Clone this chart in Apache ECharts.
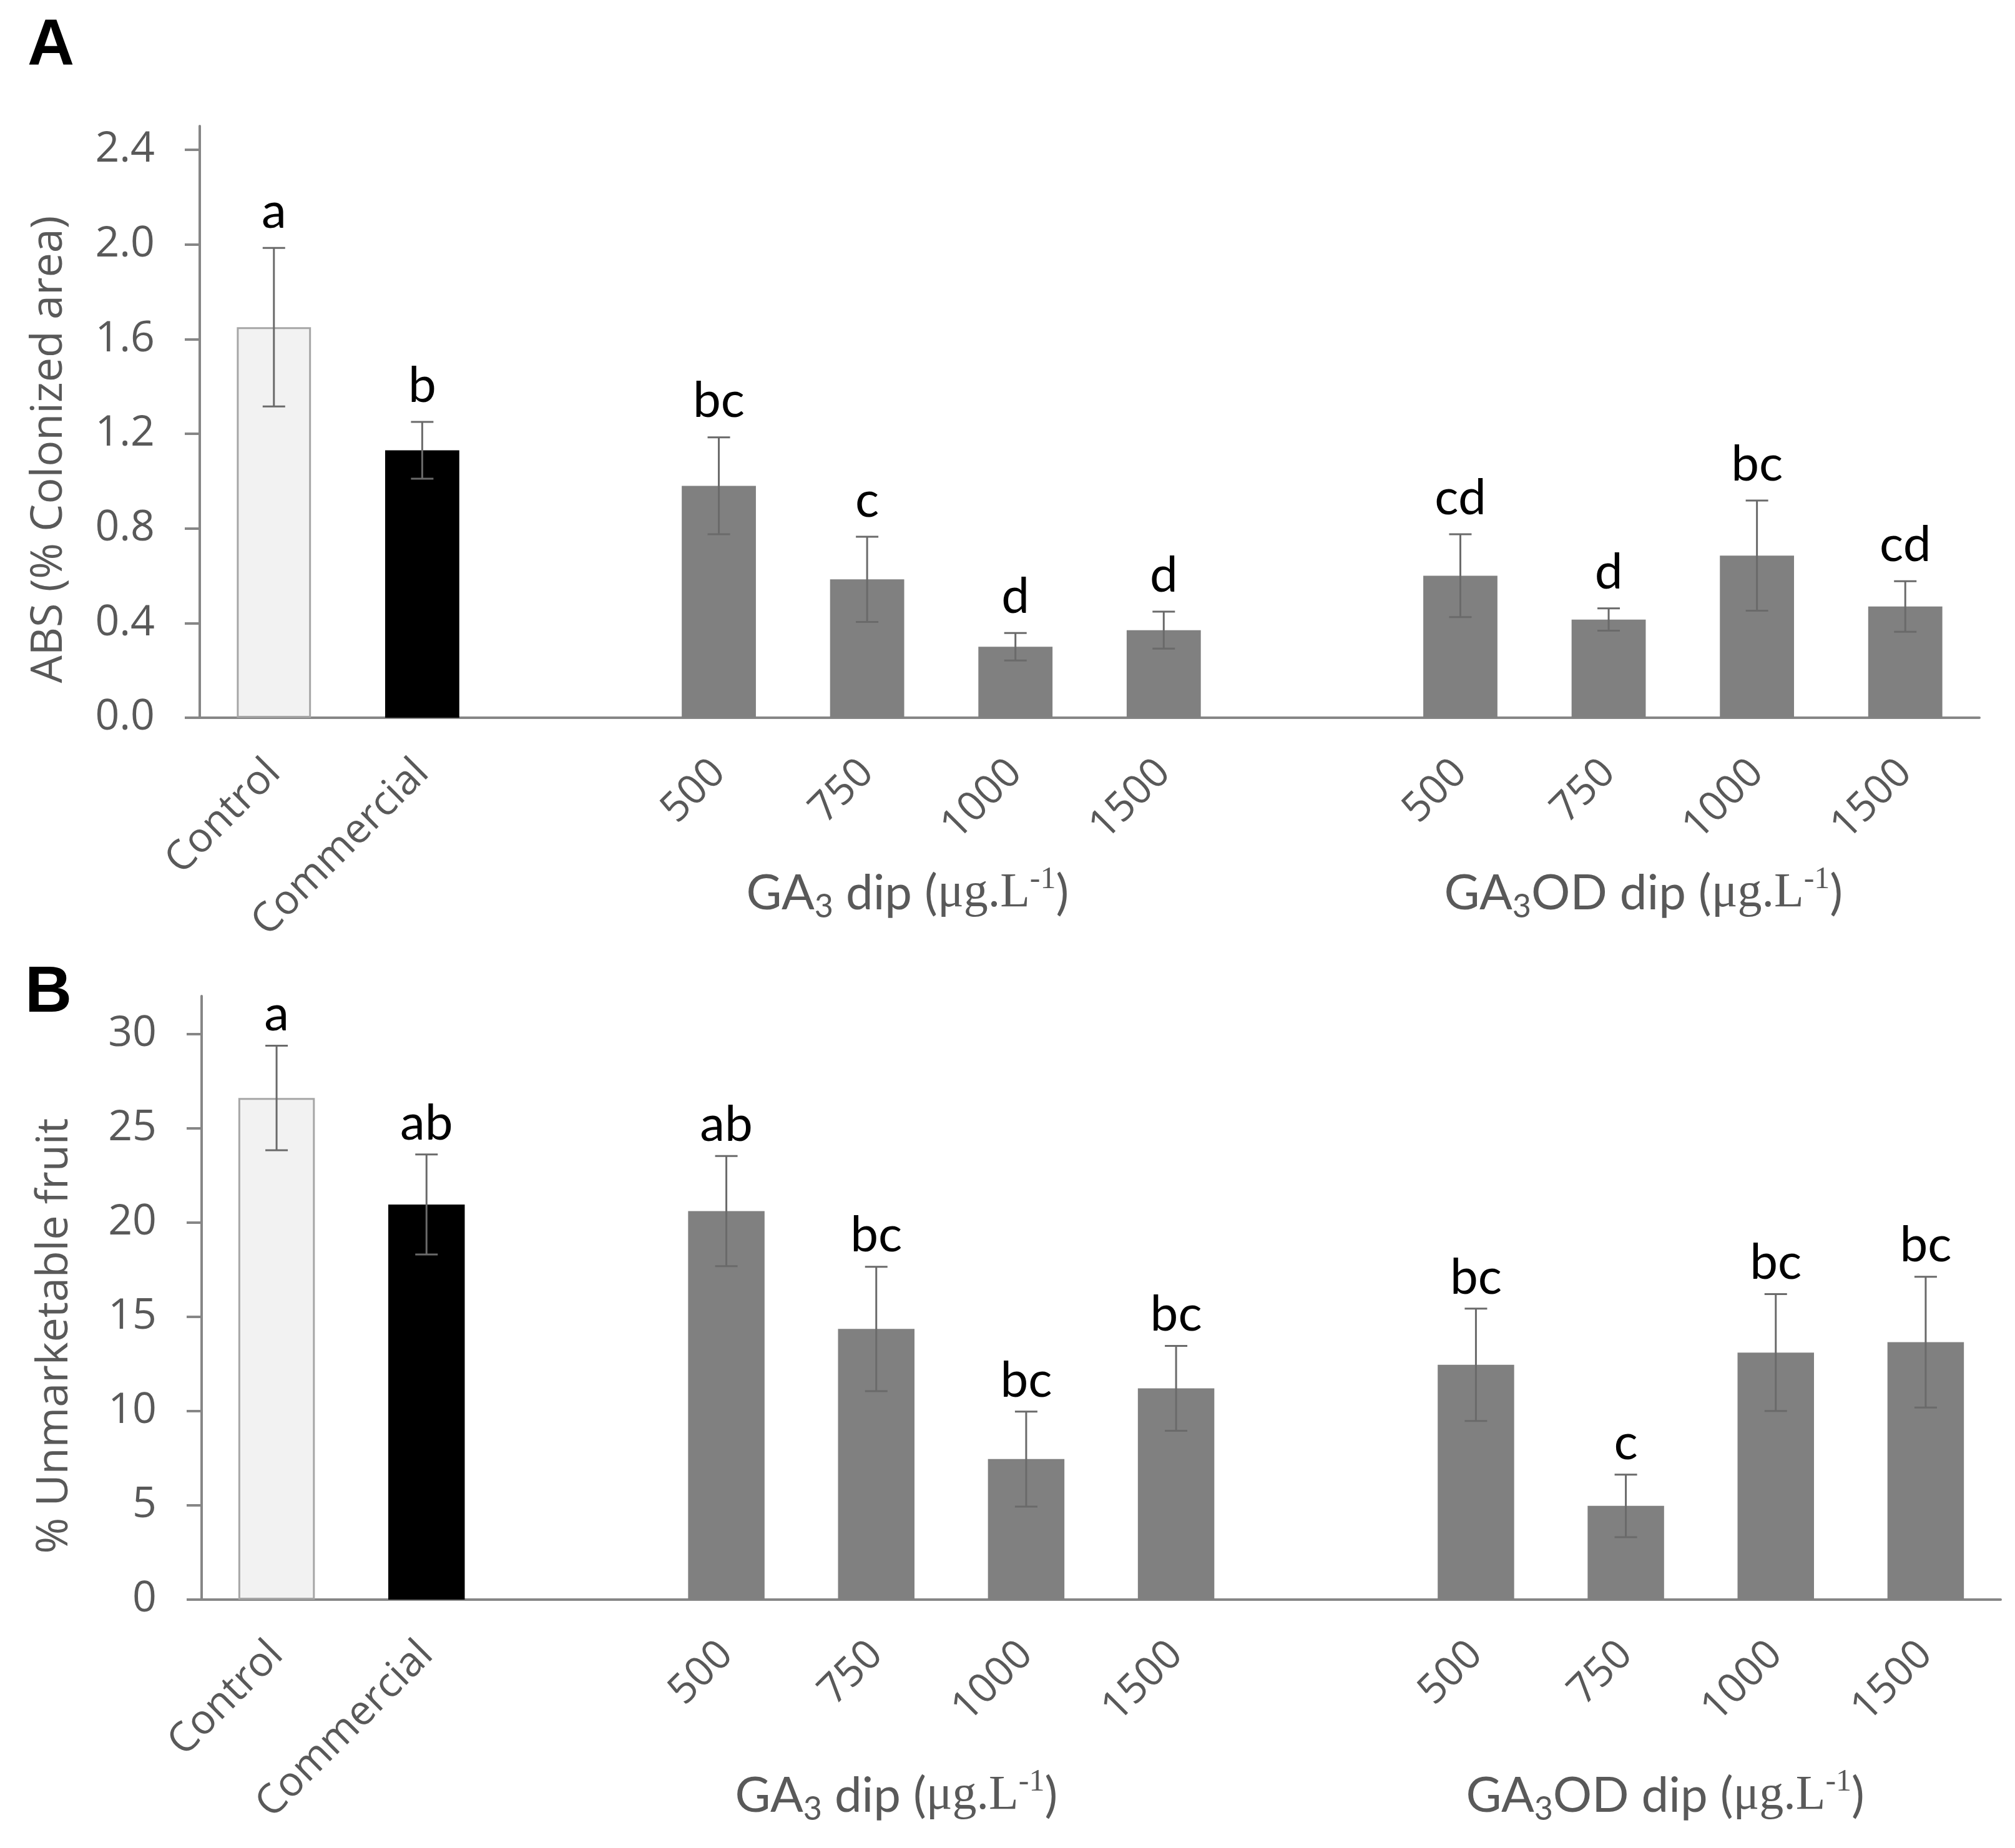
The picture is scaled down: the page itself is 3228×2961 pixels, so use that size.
<!DOCTYPE html>
<html>
<head>
<meta charset="utf-8">
<script src="https://cdn.jsdelivr.net/npm/echarts@6/dist/echarts.min.js"></script>
<style>
html,body{margin:0;padding:0;background:#fff;}
#c{width:3228px;height:2961px;}
</style>
</head>
<body>
<div id="c"></div>
<script>
// ---- data ----
const categories = ['Control','Commercial','gap1','GA3-500','GA3-750','GA3-1000','GA3-1500','gap2','GA3OD-500','GA3OD-750','GA3OD-1000','GA3OD-1500'];
const tickLabels = ['Control','Commercial','','500','750','1000','1500','','500','750','1000','1500'];
const absMean = [1.65, 1.13, null, 0.98, 0.585, 0.30, 0.37, null, 0.60, 0.415, 0.685, 0.47];
const absErr  = [0.335, 0.12, null, 0.205, 0.18, 0.058, 0.078, null, 0.175, 0.047, 0.233, 0.107];
const absLetters = ['a','b','','bc','c','d','d','','cd','d','bc','cd'];
const unmMean = [26.6, 20.95, null, 20.6, 14.35, 7.45, 11.2, null, 12.45, 4.97, 13.1, 13.65];
const unmErr  = [2.77, 2.65, null, 2.92, 3.3, 2.52, 2.25, null, 2.98, 1.66, 3.1, 3.47];
const unmLetters = ['a','ab','','ab','bc','bc','bc','','bc','c','bc','bc'];
const yTicksA = [0, 0.4, 0.8, 1.2, 1.6, 2.0, 2.4];
const yTicksB = [0, 5, 10, 15, 20, 25, 30];
const groupLabels = ['GA3 dip', 'GA3OD dip'];

// ---- styles ----
const GRAY_TXT = '#595959';
const AXIS_CLR = '#868686';
function barColor(i){ return i === 0 ? '#F2F2F2' : (i === 1 ? '#000000' : '#808080'); }

function barData(vals){
  return vals.map((v,i)=> v === null ? null : {
    value: v,
    itemStyle: i === 0 ? {color: barColor(i), borderColor:'#A6A6A6', borderWidth:3} : {color: barColor(i)}
  });
}
function errData(m, e){
  const out = [];
  m.forEach((v,i)=>{ if (v !== null) out.push([i, v, e[i]]); });
  return out;
}
function errRender(letters, gap){
  return function(params, api){
    const i = api.value(0), m = api.value(1), e = api.value(2);
    const t = api.coord([i, m + e]);
    const b = api.coord([i, m - e]);
    const x = t[0], cw = 18;
    const ls = {stroke:'#6a6a6a', lineWidth:3};
    return {type:'group', children:[
      {type:'line', shape:{x1:x, y1:t[1], x2:x, y2:b[1]}, style:ls},
      {type:'line', shape:{x1:x-cw, y1:t[1], x2:x+cw, y2:t[1]}, style:ls},
      {type:'line', shape:{x1:x-cw, y1:b[1], x2:x+cw, y2:b[1]}, style:ls},
      {type:'text', x:x, y:t[1]-gap, style:{text:letters[i], fill:'#000', fontSize:80, fontFamily:'Lato', align:'center', verticalAlign:'bottom'}}
    ]};
  };
}

function xAxisCfg(gi){
  return {
    type:'category', gridIndex:gi, data:categories,
    axisLine:{show:true, lineStyle:{color:AXIS_CLR, width:4}},
    axisTick:{show:false},
    axisLabel:{interval:0, rotate:45, margin:78, color:GRAY_TXT, fontSize:66, fontFamily:'Open Sans',
      formatter:(v, idx)=> tickLabels[categories.indexOf(v)]}
  };
}
function yAxisCfg(gi, max, ticks, fmt, name, gap, shift){
  return {
    type:'value', gridIndex:gi, min:0, max:max,
    name:name, nameLocation:'middle', nameGap:gap,
    nameTextStyle:{color:GRAY_TXT, fontSize:70, fontFamily:'Open Sans', padding:[0, shift, 0, 0]},
    axisLine:{show:true, lineStyle:{color:AXIS_CLR, width:4}},
    axisTick:{show:true, length:24, customValues:ticks, lineStyle:{color:AXIS_CLR, width:4}},
    splitLine:{show:false},
    axisLabel:{customValues:ticks, margin:72, color:GRAY_TXT, fontSize:68, fontFamily:'Open Sans', formatter:fmt}
  };
}

const chart = echarts.init(document.getElementById('c'), null, {renderer:'canvas'});
chart.setOption({
  animation:false,
  backgroundColor:'#fff',
  grid:[
    {left:320, right:57, top:202, height:948},
    {left:323, right:23, top:1596, height:967}
  ],
  xAxis:[xAxisCfg(0), xAxisCfg(1)],
  yAxis:[
    yAxisCfg(0, 2.5, yTicksA, v=>Number(v).toFixed(1), 'ABS (% Colonized area)', 206, 88),
    yAxisCfg(1, 32, yTicksB, v=>String(Math.round(v)), '% Unmarketable fruit', 200, 122)
  ],
  series:[
    {type:'bar', xAxisIndex:0, yAxisIndex:0, data:barData(absMean), barWidth:'50%'},
    {type:'custom', xAxisIndex:0, yAxisIndex:0, data:errData(absMean, absErr), renderItem:errRender(absLetters, 18), z:5},
    {type:'bar', xAxisIndex:1, yAxisIndex:1, data:barData(unmMean), barWidth:'51%'},
    {type:'custom', xAxisIndex:1, yAxisIndex:1, data:errData(unmMean, unmErr), renderItem:errRender(unmLetters, 10), z:5}
  ]
});

// group labels & panel letters, placed relative to the axes
function px(axisIdx, cat){ return chart.convertToPixel({xAxisIndex:axisIdx}, cat); }
function py(axisIdx, v){ return chart.convertToPixel({yAxisIndex:axisIdx}, v); }
const rich = {
  n:{fontFamily:'Lato', fontSize:78, fill:GRAY_TXT, color:GRAY_TXT, lineHeight:94},
  s:{fontFamily:'Lato', fontSize:52, fill:GRAY_TXT, color:GRAY_TXT, lineHeight:52, verticalAlign:'bottom'},
  m:{fontFamily:'Liberation Serif', fontSize:78, fill:GRAY_TXT, color:GRAY_TXT, lineHeight:94},
  p:{fontFamily:'Liberation Serif', fontSize:50, fill:GRAY_TXT, color:GRAY_TXT, lineHeight:50, verticalAlign:'top'}
};
function groupText(base){
  return '{n|' + base.replace(/^GA3/, 'GA}{s|3}{n|') + ' (}{m|μg.L}{p|-1}{n|)}';
}
function groupEl(axisIdx, gi, off, dy){
  const c0 = gi === 0 ? 4 : 9;
  const x = (px(axisIdx, categories[c0]) + px(axisIdx, categories[c0+1])) / 2 + off;
  const y = py(axisIdx, 0) + dy;
  return {type:'text', x:x, y:y, style:{text:groupText(groupLabels[gi]), rich:rich, fill:GRAY_TXT,
    align:'center', verticalAlign:'middle', textAlign:'center', textVerticalAlign:'middle'}};
}
chart.setOption({
  graphic:[
    groupEl(0, 0, -54, 282),
    groupEl(0, 1, -63, 282),
    groupEl(1, 0, -88, 315),
    groupEl(1, 1, -57, 315),
    {type:'text', x:44, y:22, style:{text:'A', fontSize:104, fontWeight:'bold', fontFamily:'Liberation Sans', fill:'#000'}},
    {type:'text', x:40, y:1540, style:{text:'B', fontSize:104, fontWeight:'bold', fontFamily:'Liberation Sans', fill:'#000'}}
  ]
});
</script>
</body>
</html>
